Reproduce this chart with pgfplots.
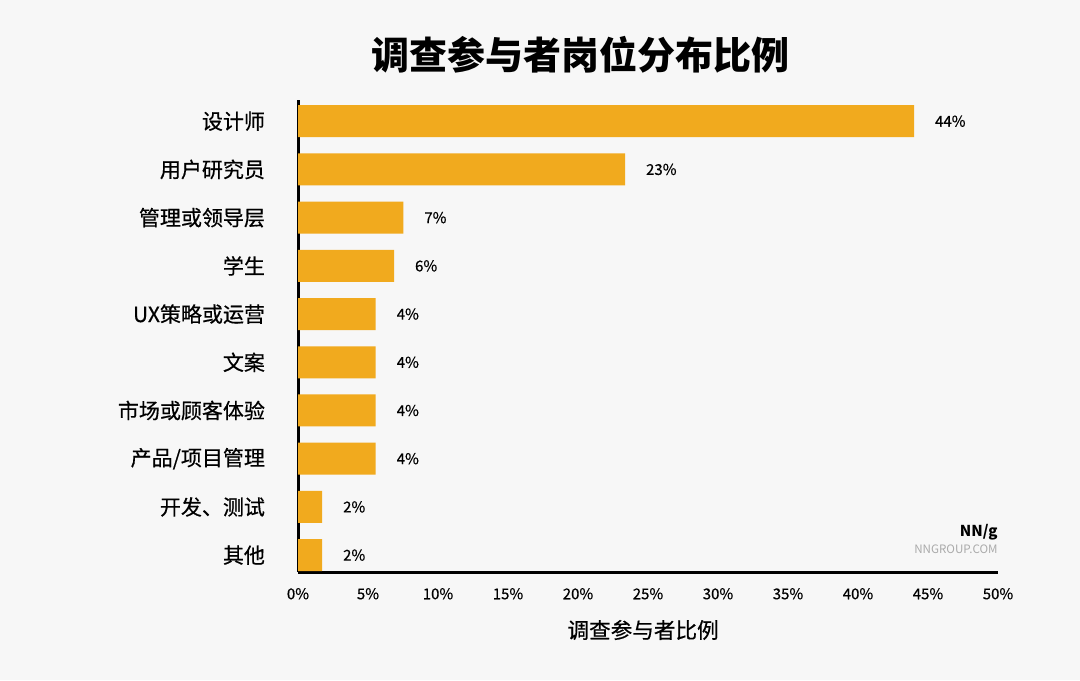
\documentclass[border=0pt]{standalone}
\usepackage{fontspec}
\setmainfont{Noto Sans CJK SC}
\newfontfamily\medfont{Noto Sans CJK SC}[FakeBold=0.5]
\usepackage{pgfplots}
\pgfplotsset{compat=1.18}
\usepackage{pgfplotstable}
\definecolor{bg}{RGB}{247,247,247}
\definecolor{barc}{RGB}{241,170,30}
\definecolor{logogray}{RGB}{170,170,170}
\pgfplotstableread{
pos value lab
0 44.0 44
1 23.36 23
2 7.52 7
3 6.86 6
4 5.55 4
5 5.55 4
6 5.55 4
7 5.55 4
8 1.72 2
9 1.72 2
}\roles
\begin{document}
\begin{tikzpicture}
\fill[bg] (0,0) rectangle (540pt,340pt);
\begin{axis}[
  at={(149pt,54pt)}, anchor=south west,
  scale only axis, width=350pt, height=236pt,
  xbar, bar width=16pt,
  xmin=0, xmax=50, ymin=-0.44, ymax=9.35, y dir=reverse,
  enlargelimits=false,
  axis x line*=bottom, axis y line*=left,
  axis line style={line width=1.5pt, black},
  xtick={0,5,...,50},
  xticklabel={\pgfmathprintnumber{\tick}\%},
  ytick={0,...,9},
  yticklabels={设计师,用户研究员,管理或领导层,学生,UX策略或运营,文案,市场或顾客体验,产品/项目管理,开发、测试,其他},
  major tick length=0pt, tick style={draw=none},
  /pgf/number format/assume math mode=true,
  xticklabel style={font=\medfont\fontsize{7.5}{9}\selectfont, yshift=-4.5pt},
  yticklabel style={font=\medfont\fontsize{10.5}{12}\selectfont, xshift=-13pt},
  xlabel={调查参与者比例},
  xlabel style={font=\medfont\fontsize{10.8}{12}\selectfont, at={(axis description cs:0.493,0)}, anchor=center, yshift=-29pt},
  point meta=explicit symbolic,
  nodes near coords={\pgfplotspointmeta\%},
  nodes near coords style={font=\medfont\fontsize{7.5}{8}\selectfont, anchor=west, xshift=7pt},
]
\addplot[fill=barc, draw=none] table[x=value, y=pos, meta=lab] {\roles};
\end{axis}
\node[font=\bfseries\fontsize{19}{22}\selectfont] at (290pt,312.5pt) {调查参与者岗位分布比例};
\node[anchor=east, font=\bfseries\fontsize{7.5}{8}\selectfont, inner sep=0pt] at (499pt,74pt) {NN/g};
\node[anchor=east, font=\fontsize{5.8}{7}\selectfont, text=logogray, inner sep=0pt] at (499pt,65.5pt) {NNGROUP.COM};
\end{tikzpicture}
\end{document}
